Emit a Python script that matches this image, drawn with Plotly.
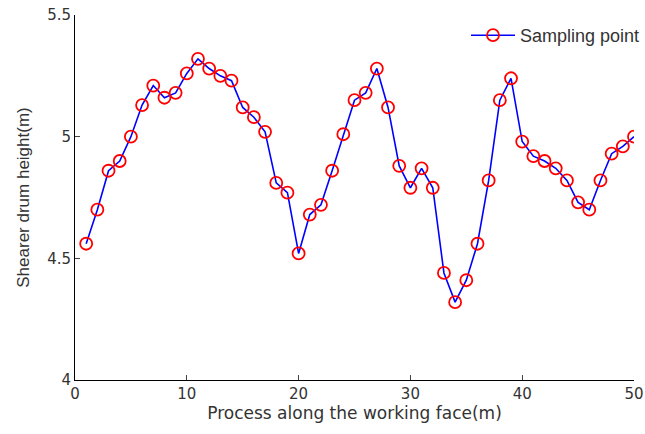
import plotly.graph_objects as go

x_vals = list(range(1, 51))
heights = [4.56, 4.70, 4.86, 4.90, 5.00, 5.13, 5.21, 5.16, 5.18, 5.26,
           5.32, 5.28, 5.25, 5.23, 5.12, 5.08, 5.02, 4.81, 4.77, 4.52,
           4.68, 4.72, 4.86, 5.01, 5.15, 5.18, 5.28, 5.12, 4.88, 4.79,
           4.87, 4.79, 4.44, 4.32, 4.41, 4.56, 4.82, 5.15, 5.24, 4.98,
           4.92, 4.90, 4.87, 4.82, 4.73, 4.70, 4.82, 4.93, 4.96, 5.00]

x_ticks = [0, 10, 20, 30, 40, 50]
y_ticks = [4, 4.5, 5, 5.5]
y_tick_text = ["4", "4.5", "5", "5.5"]

fig = go.Figure()
fig.add_trace(go.Scatter(
    x=x_vals, y=heights, mode="lines+markers", name="Sampling point",
    line=dict(color="#0000ff", width=1.6),
    marker=dict(symbol="circle-open", color="#ff0000", size=12, line=dict(width=1.8, color="#ff0000")),
))

txt = "#333"
wide = dict(family="DejaVu Sans, Liberation Sans, sans-serif", size=17, color=txt)
tickf = dict(family="DejaVu Sans, Liberation Sans, sans-serif", size=15, color=txt)
ytitle = dict(family="Liberation Sans, Arial, sans-serif", size=17, color=txt)
legf = dict(family="Liberation Sans, Arial, sans-serif", size=18, color=txt)

fig.update_layout(
    width=645, height=434,
    margin=dict(l=75, r=11, t=15, b=54, autoexpand=False),
    paper_bgcolor="white", plot_bgcolor="white",
    font=wide,
    showlegend=True,
    legend=dict(x=(466 - 75) / 559, y=1 - 2 / 365, xanchor="left", yanchor="top",
                bgcolor="rgba(0,0,0,0)", font=legf, itemwidth=44),
)
fig.update_xaxes(range=[0, 50], tickvals=x_ticks, ticks="inside", ticklen=5, automargin=False,
                 showline=True, linecolor="black", linewidth=1, showgrid=False, zeroline=False,
                 title=dict(text="Process along the working face(m)", font=wide, standoff=0),
                 tickfont=tickf)
fig.update_yaxes(range=[4, 5.5], tickvals=y_ticks, ticktext=y_tick_text, ticks="inside", ticklen=5,
                 automargin=False,
                 showline=True, linecolor="black", linewidth=1, showgrid=False, zeroline=False,
                 title=dict(text="Shearer drum height(m)", font=ytitle, standoff=13),
                 tickfont=tickf)

fig.write_html("out.html", config={"displayModeBar": False},
               post_script="document.body.style.margin='0';")
